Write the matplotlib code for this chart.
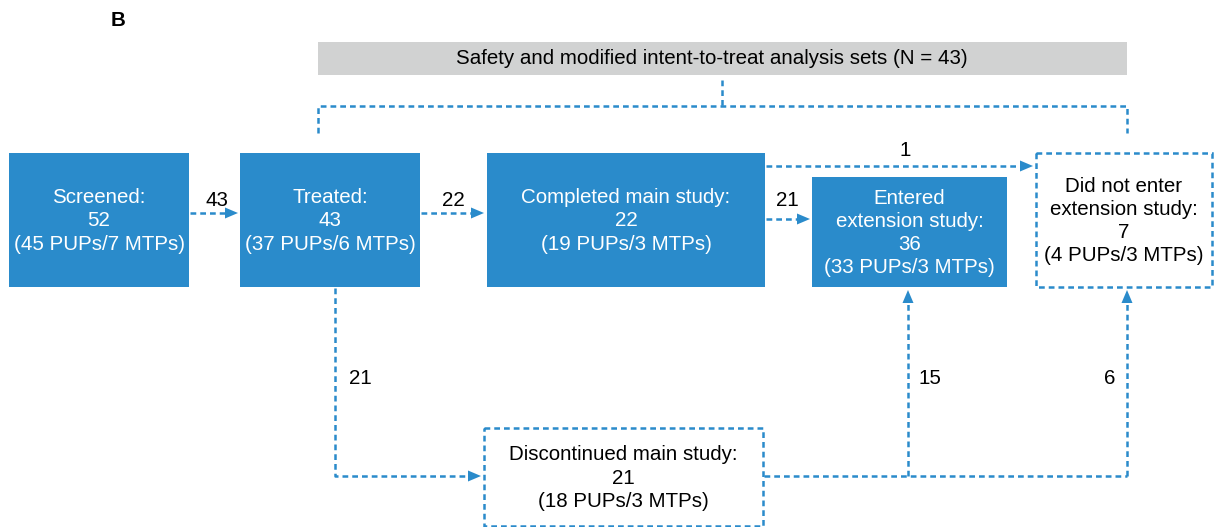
import matplotlib.pyplot as plt
from matplotlib.patches import Rectangle, Polygon

plt.rcParams['font.family'] = ['Liberation Sans', 'DejaVu Sans']

# flow counts
n_screened, n_treated = 52, 43
n_completed, n_discontinued = 22, 21
n_entered, n_not_entered = 36, 7
flow_labels = ["43", "22", "21", "1", "21", "15", "6"]
pups = {"screened": (45, 7), "treated": (37, 6), "completed": (19, 3),
        "entered": (33, 3), "not_entered": (4, 3), "discontinued": (18, 3)}

BLUE = '#2a8bcb'
GREY = '#d1d2d2'
FS = 14.8
LW = 1.8
DASH = (0, (2.3, 1.6))

fig = plt.figure(figsize=(12.14, 5.27), dpi=100)
ax = fig.add_axes([0, 0, 1, 1])
ax.set_xlim(0, 1214)
ax.set_ylim(527, 0)
ax.axis('off')


def sub(key):
    p, m = pups[key]
    return "(%d PUPs/%d MTPs)" % (p, m)


def solid_box(x0, y0, x1, y1, text):
    ax.add_patch(Rectangle((x0, y0), x1 - x0, y1 - y0, color=BLUE, lw=0))
    ax.text((x0 + x1) / 2, (y0 + y1) / 2 + 1, text, color='white', ha='center',
            va='center', fontsize=FS, linespacing=1.28)


def dotted_box(x0, y0, x1, y1, text):
    ax.add_patch(Rectangle((x0, y0), x1 - x0, y1 - y0, fill=False, ec=BLUE,
                           lw=LW, ls=DASH, clip_on=False))
    ax.text((x0 + x1) / 2, (y0 + y1) / 2 + 1, text, color='black', ha='center',
            va='center', fontsize=FS, linespacing=1.28)


def head(x, y, d):
    L, W = 13, 5.5
    if d == 'r':
        pts = [(x, y), (x - L, y - W), (x - L, y + W)]
    else:  # up
        pts = [(x, y), (x - W, y + L), (x + W, y + L)]
    ax.add_patch(Polygon(pts, closed=True, color=BLUE, lw=0))


def dline(xs, ys, d=None):
    xs, ys = list(xs), list(ys)
    if d == 'r':
        tip = xs[-1]
        xs[-1] = tip - 10
    elif d == 'u':
        tip = ys[-1]
        ys[-1] = tip + 10
    ax.plot(xs, ys, color=BLUE, lw=LW, ls=DASH, dash_capstyle='butt')
    if d == 'r':
        head(tip, ys[-1], 'r')
    elif d == 'u':
        head(xs[-1], tip, 'u')


# header
ax.text(118, 20, "B", fontsize=FS, fontweight='bold', ha='center', va='center')
ax.add_patch(Rectangle((318, 42), 809, 33, color=GREY, lw=0))
ax.text(712, 58, "Safety and modified intent-to-treat analysis sets (N = %d)" % n_treated,
        ha='center', va='center', fontsize=FS)
dline([722, 722], [80, 106])
dline([318, 318, 1127, 1127], [133, 106, 106, 133])

# boxes
solid_box(9, 153, 189, 287, "Screened:\n%d\n%s" % (n_screened, sub("screened")))
solid_box(240, 153, 420, 287, "Treated:\n%d\n%s" % (n_treated, sub("treated")))
solid_box(487, 153, 765, 287, "Completed main study:\n%d\n%s" % (n_completed, sub("completed")))
solid_box(812, 177, 1007, 287, "Entered\nextension study:\n%d\n%s" % (n_entered, sub("entered")))
dotted_box(1036, 153, 1212, 287, "Did not enter\nextension study:\n%d\n%s" % (n_not_entered, sub("not_entered")))
dotted_box(484, 428, 763, 526, "Discontinued main study:\n%d\n%s" % (n_discontinued, sub("discontinued")))

# arrows
dline([190, 238], [213, 213], 'r')
ax.text(217, 200, flow_labels[0], ha='center', va='center', fontsize=FS)
dline([421, 484], [213, 213], 'r')
ax.text(453, 200, flow_labels[1], ha='center', va='center', fontsize=FS)
dline([766, 810], [219, 219], 'r')
ax.text(787, 200, flow_labels[2], ha='center', va='center', fontsize=FS)
dline([766, 1033], [166, 166], 'r')
ax.text(905, 150, flow_labels[3], ha='center', va='center', fontsize=FS)
dline([335, 335, 481], [288, 476, 476], 'r')
ax.text(360, 378, flow_labels[4], ha='center', va='center', fontsize=FS)
dline([764, 1127], [476, 476])
dline([908, 908], [476, 290], 'u')
ax.text(930, 378, flow_labels[5], ha='center', va='center', fontsize=FS)
dline([1127, 1127], [476, 290], 'u')
ax.text(1110, 378, flow_labels[6], ha='center', va='center', fontsize=FS)

fig.savefig('out.png', dpi=100)
